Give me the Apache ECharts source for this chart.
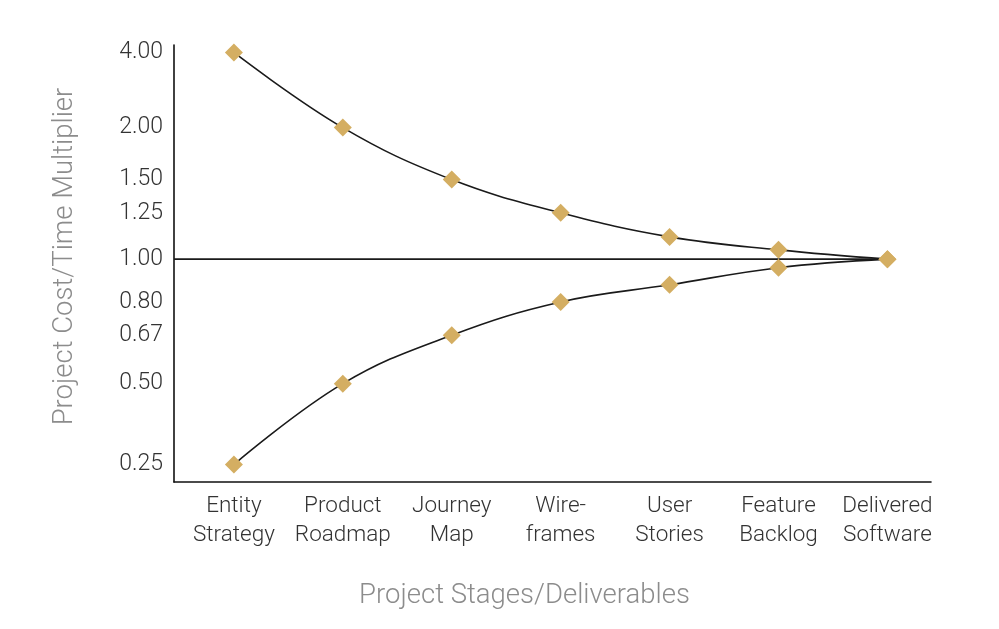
<!DOCTYPE html>
<html>
<head>
<meta charset="utf-8">
<script src="https://cdn.jsdelivr.net/npm/echarts@6/dist/echarts.min.js"></script>
<style>
  html, body { margin: 0; padding: 0; background: #fff; }
  #chart { width: 999px; height: 629px; }
</style>
</head>
<body>
<div id="chart"></div>
<script>
// stages on the x axis
const stages = ["Entity\nStrategy", "Product\nRoadmap", "Journey\nMap", "Wire-\nframes", "User\nStories", "Feature\nBacklog", "Delivered\nSoftware"];

// cone values
const upperValues = [4.00, 2.00, 1.50, 1.25, 1.12, 1.05, 1.00];
const lowerValues = [0.25, 0.50, 0.67, 0.80, 0.88, 0.96, 1.00];

// the y scale is not linear: tick values and where they sit on a 0..100 axis
const yTickValues = [0.25, 0.50, 0.67, 0.80, 1.00, 1.25, 1.50, 2.00, 4.00];
const yTickPos    = [4.0, 22.5, 33.6, 41.2, 51.0, 61.6, 69.2, 81.1, 98.3];

const GOLD = "#d4ae62";
const FONT = "Roboto";

// piecewise scale: multiplier -> axis position
function toPos(v) {
  for (let i = 0; i < yTickValues.length - 1; i++) {
    const a = yTickValues[i], b = yTickValues[i + 1];
    if (v >= a && v <= b) {
      const t = (v - a) / (b - a);
      return yTickPos[i] + t * (yTickPos[i + 1] - yTickPos[i]);
    }
  }
  return v < yTickValues[0] ? yTickPos[0] : yTickPos[yTickPos.length - 1];
}

function posLabel(p) {
  let best = 0;
  yTickPos.forEach((q, i) => { if (Math.abs(q - p) < Math.abs(yTickPos[best] - p)) best = i; });
  return yTickValues[best].toFixed(2);
}

const chart = echarts.init(document.getElementById("chart"));

const lineStyle = { color: "#1a1a1a", width: 1.6 };

chart.setOption({
  animation: false,
  grid: { left: 174, right: 68, top: 45, bottom: 147 },
  xAxis: {
    type: "value",
    min: -0.55,
    max: 6.4,
    name: "Project Stages/Deliverables",
    nameLocation: "middle",
    nameGap: 100,
    // name sits a bit left of the axis middle in the original
    nameTextStyle: { fontFamily: FONT, fontWeight: 300, fontSize: 27.5, color: "#8c8c8c", padding: [0, 56, 0, 0] },
    axisLine: { show: true, lineStyle: { color: "#111", width: 1.6 } },
    axisTick: { show: false },
    splitLine: { show: false },
    axisLabel: {
      customValues: stages.map((s, i) => i),
      formatter: v => stages[Math.round(v)] ?? "",
      fontFamily: FONT,
      fontWeight: 300,
      fontSize: 22.5,
      lineHeight: 29,
      color: "#333",
      margin: 10
    }
  },
  yAxis: {
    type: "value",
    min: 0,
    max: 100,
    name: "Project Cost/Time Multiplier",
    nameLocation: "middle",
    nameGap: 95,
    nameTextStyle: { fontFamily: FONT, fontWeight: 300, fontSize: 27.5, color: "#8c8c8c", padding: [0, 0, 0, 14] },
    axisLine: { show: true, onZero: false, lineStyle: { color: "#111", width: 1.6 } },
    axisTick: { show: false },
    splitLine: { show: false },
    axisLabel: {
      customValues: yTickPos,
      formatter: v => posLabel(v),
      fontFamily: FONT,
      fontWeight: 300,
      fontSize: 23,
      color: "#333",
      margin: 11
    }
  },
  series: [
    {
      name: "baseline",
      type: "line",
      z: 1,
      symbol: "none",
      data: [[-0.55, toPos(1)], [stages.length - 1, toPos(1)]],
      lineStyle: lineStyle
    },
    {
      name: "upper",
      type: "line",
      z: 3,
      smooth: 0.4,
      symbol: "diamond",
      symbolSize: 18,
      itemStyle: { color: GOLD },
      lineStyle: lineStyle,
      data: upperValues.map((v, i) => [i, toPos(v)])
    },
    {
      name: "lower",
      type: "line",
      z: 3,
      smooth: 0.4,
      symbol: "diamond",
      symbolSize: 18,
      itemStyle: { color: GOLD },
      lineStyle: lineStyle,
      data: lowerValues.map((v, i) => [i, toPos(v)])
    }
  ]
});
</script>
</body>
</html>
